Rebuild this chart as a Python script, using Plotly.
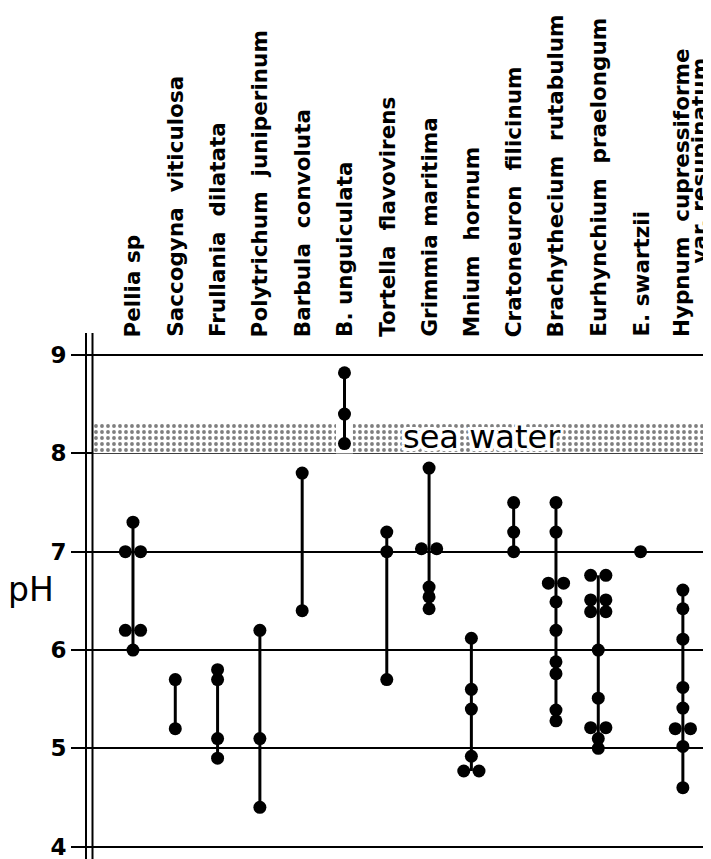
import plotly.graph_objects as go

NB = "\u00a0\u00a0"
species = [
    "Pellia sp", "Saccogyna" + NB + "viticulosa", "Frullania" + NB + "dilatata",
    "Polytrichum" + NB + "juniperinum", "Barbula" + NB + "convoluta", "B. unguiculata",
    "Tortella" + NB + "flavovirens", "Grimmia maritima", "Mnium" + NB + "hornum",
    "Cratoneuron" + NB + "filicinum", "Brachythecium" + NB + "rutabulum",
    "Eurhynchium" + NB + "praelongum", "E. swartzii", "Hypnum" + NB + "cupressiforme",
]
hypnum_second_line = "var. resupinatum"

pellia = [7.3, 7.0, 7.0, 6.2, 6.2, 6.0]
saccogyna = [5.7, 5.2]
frullania = [5.8, 5.7, 5.1, 4.9]
polytrichum = [6.2, 5.1, 4.4]
barbula = [7.8, 6.4]
b_unguiculata = [8.82, 8.4, 8.1]
tortella = [7.2, 7.0, 5.7]
grimmia = [7.85, 7.03, 7.03, 6.64, 6.54, 6.42]
mnium = [6.12, 5.6, 5.4, 4.92, 4.77, 4.77]
cratoneuron = [7.5, 7.2, 7.0]
brachythecium = [7.5, 7.2, 6.68, 6.68, 6.49, 6.2, 5.88, 5.76, 5.39, 5.28]
eurhynchium = [6.76, 6.76, 6.51, 6.51, 6.39, 6.39, 6.0, 5.51, 5.21, 5.21, 5.1, 5.0]
e_swartzii = [7.0]
hypnum = [6.61, 6.42, 6.11, 5.62, 5.41, 5.2, 5.2, 5.02, 4.6]

all_values = [pellia, saccogyna, frullania, polytrichum, barbula, b_unguiculata, tortella,
              grimmia, mnium, cratoneuron, brachythecium, eurhynchium, e_swartzii, hypnum]

sea_water_range = [8.0, 8.3]
ph_ticks = [4, 5, 6, 7, 8, 9]

X_RANGE = [-1.087, 13.665]
Y_RANGE = [3.875, 9.224]
PAIR_OFF = 0.18
PLOT_H = 526

fig = go.Figure()

# sea water stippled band
fig.add_trace(go.Scatter(
    x=[X_RANGE[0] + 0.14, X_RANGE[1], X_RANGE[1], X_RANGE[0] + 0.14],
    y=[sea_water_range[0], sea_water_range[0], sea_water_range[1], sea_water_range[1]],
    fill="toself", mode="lines", line=dict(width=0, color="rgba(0,0,0,0)"),
    fillcolor="white",
    fillpattern=dict(shape=".", fgcolor="black", bgcolor="white", size=6, solidity=0.32),
    hoverinfo="skip", showlegend=False,
))
# white gap around B. unguiculata line inside band
gi = species.index("B. unguiculata")
fig.add_trace(go.Scatter(
    x=[gi - 0.2, gi + 0.2, gi + 0.2, gi - 0.2],
    y=[sea_water_range[0], sea_water_range[0], sea_water_range[1], sea_water_range[1]],
    fill="toself", mode="lines", line=dict(width=0, color="white"), fillcolor="white",
    hoverinfo="skip", showlegend=False,
))

# range lines
lx, ly = [], []
for i, vals in enumerate(all_values):
    if len(set(vals)) > 1:
        lx += [i, i, None]
        ly += [min(vals), max(vals), None]
fig.add_trace(go.Scatter(x=lx, y=ly, mode="lines", line=dict(color="black", width=3),
                         hoverinfo="skip", showlegend=False))

# points
px_, py_ = [], []
for i, vals in enumerate(all_values):
    seen = {}
    for v in vals:
        n = vals.count(v)
        if n == 2:
            k = seen.get(v, 0)
            seen[v] = k + 1
            px_.append(i - PAIR_OFF if k == 0 else i + PAIR_OFF)
        else:
            px_.append(i)
        py_.append(v)
fig.add_trace(go.Scatter(x=px_, y=py_, mode="markers",
                         marker=dict(color="black", size=13, line=dict(width=0)),
                         hoverinfo="skip", showlegend=False))

# species labels
label_font = dict(family="DejaVu Sans", size=21.5, color="black", weight="bold")
annotations = []
last = len(species) - 1
label_y = 1 - 5 / PLOT_H
for i, name in enumerate(species):
    annotations.append(dict(x=i - (0.03 if i == last else 0), y=label_y, xref="x", yref="paper",
                            text=name, textangle=-90, xanchor="center", yanchor="bottom",
                            showarrow=False, font=label_font, borderpad=0))
annotations.append(dict(x=last + 0.37, y=1 + 68 / PLOT_H, xref="x", yref="paper",
                        text=hypnum_second_line, textangle=-90, xanchor="center",
                        yanchor="bottom", showarrow=False, font=label_font, borderpad=0))

halo = ", ".join(f"white {dx}px {dy}px 0px" for dx in (-3, 0, 3) for dy in (-3, 0, 3))
annotations.append(dict(x=0.633, y=8.17, xref="paper", yref="y", text="sea water",
                        showarrow=False, xanchor="center", yanchor="middle",
                        font=dict(family="DejaVu Sans", size=32, color="black", shadow=halo)))
annotations.append(dict(x=-0.0897, y=6.62, xref="paper", yref="y", text="pH",
                        showarrow=False, xanchor="center", yanchor="middle", borderpad=0,
                        font=dict(family="DejaVu Sans", size=33, color="black")))

shapes = [dict(type="line", xref="paper", yref="paper", x0=5.5 / 624, x1=5.5 / 624,
               y0=0, y1=1, line=dict(color="black", width=2))]

# page has an 8px body margin, so the figure is 8px smaller than the window
fig.update_layout(
    width=703, height=325 + PLOT_H,
    margin=dict(l=79, r=0, t=325, b=0),
    paper_bgcolor="white", plot_bgcolor="white",
    xaxis=dict(range=X_RANGE, visible=False, showgrid=False, zeroline=False),
    yaxis=dict(range=Y_RANGE, tickvals=ph_ticks, ticktext=[str(t) for t in ph_ticks],
               showgrid=True, gridcolor="black", gridwidth=2, zeroline=False,
               showline=True, linecolor="black", linewidth=2, automargin=False,
               ticks="outside", ticklen=14, tickwidth=2, tickcolor="black",
               ticklabelstandoff=0, ticklabeloverflow="allow",
               tickfont=dict(family="DejaVu Sans", size=23, color="black", weight="bold")),
    annotations=annotations, shapes=shapes, showlegend=False,
)

fig.write_html("out.html")
